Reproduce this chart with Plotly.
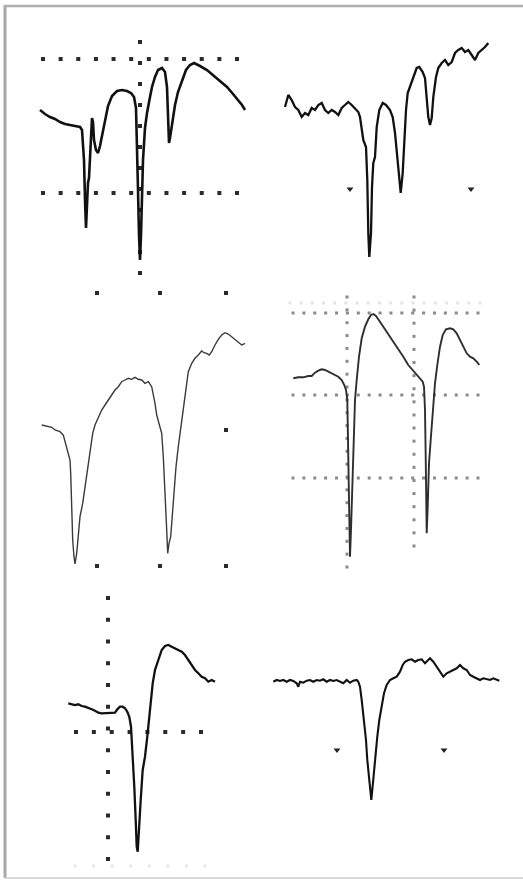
import plotly.graph_objects as go

W, H = 523, 880

# ---------------- data (time in ms, amplitude relative to baseline) ----------------
a_t = [10, 15, 20, 25, 30, 35, 40, 45, 50, 52, 54, 55, 56, 57, 58, 59, 60, 61, 62, 63, 64, 66, 68, 70,
       74, 78, 82, 87, 92, 97, 101, 104, 106, 107, 108, 109, 110, 111, 112, 113, 115, 117, 120, 122,
       125, 128, 132, 135, 137, 138, 139, 140, 142, 145, 148, 152, 156, 160, 164, 170, 177, 184, 190,
       197, 203, 208, 212, 215]
a_v = [0, -4, -7, -9, -12, -14, -15, -16, -17, -20, -50, -90, -118, -95, -73, -68, -50, -25, -8, -12,
       -30, -40, -43, -36, -15, 4, 14, 19, 20, 19, 17, 13, 2, -30, -80, -125, -150, -125, -80, -50,
       -18, -3, 13, 23, 33, 40, 42, 38, 23, -10, -33, -28, -13, 5, 18, 30, 40, 45, 47, 44, 40, 34,
       29, 23, 16, 10, 5, 0]

b_t = [5, 8.3, 11.7, 15, 18.3, 21.7, 25, 28.3, 31.7, 35, 38.3, 41.7, 45, 48.3, 51.7, 55, 58.3, 61.7,
       65, 68.3, 71.7, 75, 78.3, 80, 83.3, 86, 87.3, 88.3, 89.3, 91, 92, 93.3, 95, 96.7, 99.3, 102.7,
       106, 110, 112.7, 115, 117.3, 119.3, 120.7, 122.7, 124.3, 126, 127.7, 130, 133.3, 136.7, 139.3,
       142.7, 145, 146.7, 148.3, 150, 151.7, 153.3, 156, 158.3, 161.7, 165, 168.3, 171.7, 175, 178.3,
       181.7, 185, 188.3, 191.7, 195, 198.3, 201.7, 205, 208.3]
b_v = [3, 15, 10, 3, 0, -7, -3, -5, 2, 0, 5, 7, 0, -3, 0, -2, -5, 2, 5, 8, 5, 2, -2, -7, -30, -37,
       -70, -123, -147, -123, -77, -53, -47, -17, 0, 7, 5, 0, -7, -23, -47, -70, -83, -63, -33, 0, 17,
       23, 33, 42, 43, 38, 32, 10, -7, -15, -8, 13, 33, 42, 47, 50, 45, 48, 57, 60, 62, 58, 60, 55,
       50, 57, 60, 63, 67]
b_marks_t = [70, 191]
b_marks_v = [-79, -79]

c_t = [11.7, 16.7, 21.7, 25, 30, 33.3, 35, 36.7, 38.3, 40, 40.7, 41.7, 42.7, 44, 45, 46.7, 48.3, 50,
       52.7, 55, 57.3, 60, 62.7, 65, 68.3, 71.7, 75, 78.3, 81.7, 85, 88.3, 91.7, 95, 98.3, 101.7, 105,
       108.3, 111.7, 115, 118.3, 121.7, 123.3, 125, 126.7, 129.3, 131.7, 133.3, 134.3, 135.7, 136.7,
       137.7, 139, 140.7, 142.3, 144, 146, 148.3, 151.7, 153.3, 156, 158.3, 161.7, 165, 168.3, 171.7,
       174, 176.7, 179.3, 181.7, 185, 188.3, 191.7, 195, 198.3, 201.7, 205, 208.3, 211.7, 215]
c_v = [0, -1, -2.3, -5, -6.7, -10, -16.7, -21.7, -30, -35, -48.3, -81.7, -115, -131.7, -139, -128.3,
       -111.7, -91.7, -78.3, -61.7, -45, -25, -8.3, 0, 6.7, 15, 20, 25, 30, 35, 38.3, 43.3, 45, 46.7,
       45.7, 47.7, 45.7, 45, 41.7, 43.3, 38.3, 31.7, 21.7, 10, 1.7, -8.3, -31.7, -58.3, -81.7, -105,
       -128.3, -118.3, -111.7, -91.7, -65, -41.7, -21.7, 5, 18.3, 38.3, 53.3, 61.7, 66.7, 70, 74,
       72.3, 71.7, 70, 73.3, 80, 85.7, 90, 92.3, 91, 88.3, 85, 83.3, 80, 81.7]
c_marks_t = [67, 130, 196, 196, 67, 130, 196]
c_marks_v = [132, 132, 132, -5, -141, -141, -141]

d_t = [13.3, 18.3, 23.3, 28.3, 31.7, 35, 38.3, 41.7, 45, 48.3, 51.7, 55, 58.3, 61.7, 64.3, 66, 67.3,
       68, 68.7, 69.3, 70, 71, 72, 73.3, 75, 76.7, 79, 81.7, 85, 88.3, 91, 93.3, 96, 99.3, 103.3,
       108.3, 113.3, 118.3, 123.3, 128.3, 132.7, 136.7, 140, 142.7, 144, 145, 145.7, 146.3, 146.7,
       147.7, 149, 150.7, 152.7, 155, 157.3, 160, 162.7, 166, 170, 173.3, 176.7, 180, 183.3, 186.7,
       190, 193.3, 196.7, 199.3]
d_v = [-0.3, 0.7, 0.7, 2, 2, 5.3, 7.3, 8.7, 8, 6.3, 4, 3, 1.3, -2, -7, -12, -22, -62, -112, -162,
       -178.7, -152, -112, -62, -22, -2, 21.3, 39.7, 51.3, 58.7, 63, 64, 62, 57.3, 51.3, 44.7, 37.3,
       29.7, 21.3, 13, 8, 3, -0.3, -3.7, -8.7, -32, -78.7, -125.3, -155.3, -128.7, -85.3, -62, -32,
       -5.3, 13, 31.3, 43, 48.7, 49.7, 48.7, 44.7, 38, 31.3, 24.7, 21.3, 19.7, 16.3, 13]

e_t = [18.3, 21.7, 25, 28.3, 31.7, 35, 38.3, 41.7, 45, 48.3, 51.7, 56.7, 61.7, 65, 67.3, 70, 72.7, 75,
       77.3, 79.3, 81, 82.7, 84.3, 85.7, 86.7, 87.7, 89, 90.7, 92.7, 95, 97.3, 100, 102.7, 105, 108.3,
       111.7, 115, 118.3, 121.7, 125, 128.3, 131.7, 135, 138.3, 141.7, 145, 148.3, 151.7, 155, 158.3,
       161.7, 165]
e_v = [1.7, 1, 0, 0.7, -1, -1.7, -3.3, -4.3, -5.7, -7.7, -8.3, -8.3, -8.3, -7.7, -4.3, -1.7, -1.7,
       -3.3, -6.7, -11.7, -21.7, -48.3, -81.7, -115, -141.7, -146.7, -128.3, -95, -65, -51.7, -31.7,
       -5, 21.7, 35, 45, 55, 59, 60, 58.3, 56.7, 55, 53.3, 50, 45, 40, 35, 31.7, 28.3, 26.7, 23.3, 25,
       23.3]

f_t = [13.3, 16.7, 20, 23.3, 26.7, 30, 33.3, 36.7, 38.3, 40, 43.3, 46.7, 50, 53.3, 56.7, 60, 63.3,
       66.7, 70, 73.3, 76.7, 80, 83.3, 86.7, 90, 93.3, 96.7, 98.3, 100, 101.7, 104, 106, 107.3, 109,
       110.3, 111.3, 112.3, 113.7, 115.3, 117.3, 119.3, 121.7, 124, 126.7, 130, 133.3, 136.7, 140,
       142.7, 145, 148.3, 151.7, 155, 158.3, 161.7, 165, 166.7, 170, 173.3, 176.7, 180, 183.3, 186.7,
       190, 193.3, 196.7, 200, 203.3, 206.7, 210, 213.3, 216.7, 220, 223.3, 226.7, 230, 233.3, 236.7,
       239.3]
f_v = [-1.7, 0, -1, 0, -1.7, 0, -1, -3.3, -6.7, -1.7, -2.7, -0.7, 0, -1.7, 0, -0.7, 0.7, -1.7, 0, -1,
       0, -1.7, -3.3, 0, -2.7, -0.7, 0, -1.7, -6.7, -20, -40, -60, -80, -96.7, -111.7, -120, -110,
       -93.3, -76.7, -56.7, -40, -26.7, -13.3, -5, 0, 1.7, 3.3, 8.3, 15, 18.3, 20, 20.7, 18.3, 20, 20.7,
       16.7, 18.3, 21.7, 18.3, 13.3, 8.3, 3.3, 6.7, 8.3, 10, 11.7, 15, 11.7, 10, 5, 3.3, 1.7, 0, 1.7,
       0.7, 0, 1.7, 0.7, -0.7]
f_marks_t = [77, 184]
f_marks_v = [-70, -70]

# ---------------- panel layout (pixel boxes and local axis ranges) ----------------
panels = {
    1: dict(box=(35, 35, 250, 300), xr=(5, 220), yr=(-190, 75)),
    2: dict(box=(280, 35, 495, 290), xr=(0, 215), yr=(-180, 75)),
    3: dict(box=(30, 285, 255, 580), xr=(0, 225), yr=(-155, 140)),
    4: dict(box=(285, 290, 490, 580), xr=(5, 210), yr=(-202, 88)),
    5: dict(box=(55, 590, 230, 875), xr=(5, 180), yr=(-170, 115)),
    6: dict(box=(265, 620, 505, 820), xr=(5, 245), yr=(-140, 60)),
}

fig = go.Figure()
layout = dict(width=W, height=H, margin=dict(l=0, r=0, t=0, b=0),
              paper_bgcolor="white", plot_bgcolor="rgba(0,0,0,0)", showlegend=False)
for i, p in panels.items():
    l, t, r, b = p["box"]
    sx = "" if i == 1 else str(i)
    layout["xaxis" + sx] = dict(domain=[l / W, r / W], range=list(p["xr"]), visible=False,
                                anchor="y" + sx, fixedrange=True)
    layout["yaxis" + sx] = dict(domain=[1 - b / H, 1 - t / H], range=list(p["yr"]), visible=False,
                                anchor="x" + sx, fixedrange=True)
fig.update_layout(**layout)


def ax(i):
    s = "" if i == 1 else str(i)
    return dict(xaxis="x" + s, yaxis="y" + s)


def lin(a, b, n):
    if n == 1:
        return [a]
    return [a + (b - a) * k / (n - 1) for k in range(n)]


def dots(i, xs, ys, color, size):
    fig.add_trace(go.Scatter(x=xs, y=ys, mode="markers", hoverinfo="skip",
                             marker=dict(symbol="square", size=size, color=color, line=dict(width=0)),
                             **ax(i)))


# grid dots panel 1
for yv in (51, -83):
    dots(1, lin(13, 207, 12), [yv] * 12, "#2a2a2a", 4)
dots(1, [110] * 12, lin(68, -163, 12), "#2a2a2a", 4)
# panel 3 sparse dots
dots(3, c_marks_t, c_marks_v, "#2a2a2a", 4)
# panel 4 grid
dots(4, lin(10, 200, 18), [75] * 18, "#e4e4e4", 3)
for yv in (65, -17, -100):
    dots(4, lin(13, 198, 18), [yv] * 18, "#8a8a8a", 3)
dots(4, [67] * 22, lin(81, -189, 22), "#8a8a8a", 3)
dots(4, [134] * 20, lin(81, -168, 20), "#8a8a8a", 3)
# panel 5 grid
dots(5, lin(25, 155, 8), [-161] * 8, "#e6e6e6", 3)
dots(5, [58] * 13, lin(107, -154, 13), "#2a2a2a", 4)
dots(5, lin(26, 151, 8), [-27] * 8, "#2a2a2a", 4)

# traces
traces = [
    (1, a_t, a_v, "#111111", 2.6),
    (2, b_t, b_v, "#111111", 2.3),
    (3, c_t, c_v, "#3a3a3a", 1.4),
    (4, d_t, d_v, "#2e2e2e", 1.9),
    (5, e_t, e_v, "#111111", 2.3),
    (6, f_t, f_v, "#111111", 2.1),
]
for i, xs, ys, col, w in traces:
    fig.add_trace(go.Scatter(x=xs, y=ys, mode="lines", hoverinfo="skip",
                             line=dict(color=col, width=w, shape="linear"), **ax(i)))

# small arrow marks
fig.add_trace(go.Scatter(x=b_marks_t, y=b_marks_v, mode="markers", hoverinfo="skip",
                         marker=dict(symbol="triangle-down", size=6, color="#222"), **ax(2)))
fig.add_trace(go.Scatter(x=f_marks_t, y=f_marks_v, mode="markers", hoverinfo="skip",
                         marker=dict(symbol="triangle-down", size=6, color="#222"), **ax(6)))

# frame
fig.add_shape(type="line", xref="paper", yref="paper", x0=5 / W, x1=5 / W, y0=1 - 878 / H, y1=1 - 5 / H,
              line=dict(color="#a8a8a8", width=3))
fig.add_shape(type="line", xref="paper", yref="paper", x0=4 / W, x1=1, y0=1 - 6 / H, y1=1 - 6 / H,
              line=dict(color="#b0b0b0", width=2.5))
fig.add_shape(type="line", xref="paper", yref="paper", x0=4 / W, x1=1, y0=1 - 878 / H, y1=1 - 878 / H,
              line=dict(color="#cccccc", width=1.5))

fig.write_html("out.html", config={"displayModeBar": False},
               post_script="document.body.style.margin='0px';document.body.style.overflow='hidden';")
